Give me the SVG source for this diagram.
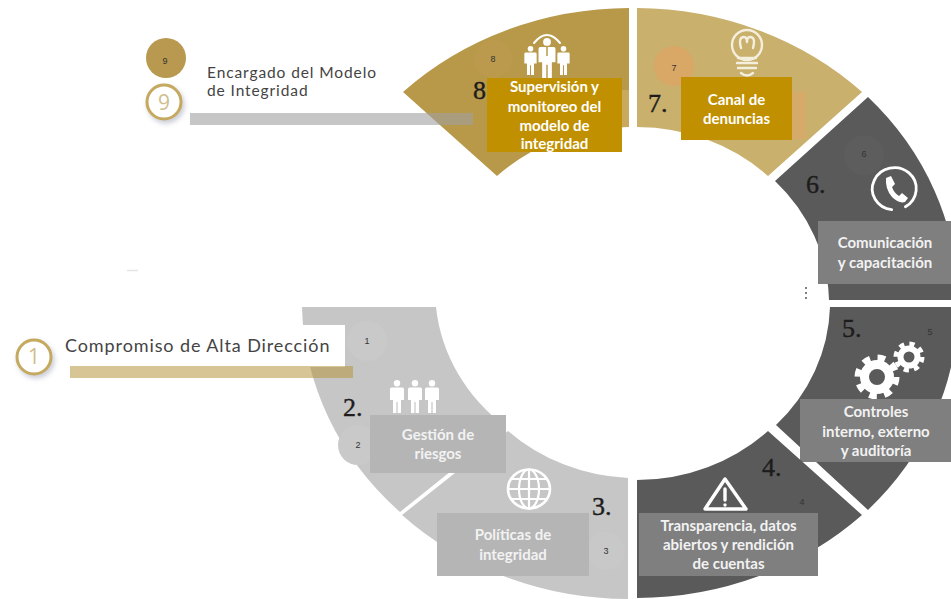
<svg xmlns="http://www.w3.org/2000/svg" width="951" height="599" viewBox="0 0 951 599">
<defs>
<style>
.dark{fill:#5a5a5a}.light{fill:#c6c6c6}
.lb{font-family:"Lato","Liberation Sans",sans-serif;font-weight:700;font-size:15px;fill:#fff;text-anchor:middle}
.lb2{fill:#f2f2f2}
.num{font-family:"Liberation Serif",serif;font-size:26px;fill:#1c1c1c;stroke:#1c1c1c;stroke-width:.4px}
.sm{font-family:"Liberation Sans",sans-serif;font-size:9px;fill:#333;text-anchor:middle}
.head{font-family:"Lato","Liberation Sans",sans-serif;fill:#444;letter-spacing:.9px}
.ring{font-family:"Open Sans","Liberation Sans",sans-serif;font-size:21px;fill:#d0bd8c;text-anchor:middle}
.ic{fill:none;stroke:#fff;stroke-linecap:round;stroke-linejoin:round}
.cr{fill:none;stroke:#f4eedd;stroke-width:2.4;stroke-linecap:round;stroke-linejoin:round}
</style>
<filter id="sh" x="-30%" y="-30%" width="170%" height="170%"><feDropShadow dx="2" dy="3" stdDeviation="2.5" flood-color="#8a8fa8" flood-opacity=".45"/></filter>
<symbol id="person" viewBox="0 0 14 33" overflow="visible">
<circle cx="7" cy="3.2" r="3.2" fill="#fff"/>
<path d="M1.5 7.500H12.500Q14 7.500 14 9V20H11V33H7.600V22H6.400V33H3V20H0V9Q0 7.500 1.500 7.500Z" fill="#fff"/>
</symbol>
</defs>
<rect width="951" height="599" fill="#fff"/>
<path d="M127 270.500H138" stroke="#e4e4e4" stroke-width="1.500"/>

<g id="node-8">
<path d="M629 8A325 295 0 0 0 403 92L497 176A190 176 0 0 1 629 127Z" fill="#b8994a"/>
<rect x="615" y="90" width="14" height="37" fill="#c9a95e"/>
<circle cx="493" cy="59" r="19" fill="#bb9a4e"/>
<text class="sm" x="493" y="62">8</text>
<g>
<path d="M534 43Q547 27 560 43" class="ic" stroke-width="2"/>
<use href="#person" x="524" y="46" width="13" height="29"/>
<use href="#person" x="557" y="46" width="13" height="29"/>
<use href="#person" x="538" y="38" width="18" height="40"/>
<path d="M547 47V56" stroke="#b8994a" stroke-width="1.500"/>
</g>
<text class="num" x="473" y="99">8.</text>
<rect x="487" y="78" width="135" height="74" fill="#c09000"/>
<text class="lb"><tspan x="554.500" y="92">Supervisión y</tspan><tspan x="554.500" y="112">monitoreo del</tspan><tspan x="554.500" y="131">modelo de</tspan><tspan x="554.500" y="149">integridad</tspan></text>
</g>

<g id="node-7">
<path d="M637 8A325 295 0 0 1 862 92L768 176A190 176 0 0 0 637 127Z" fill="#c9b06c"/>
<rect x="790" y="92" width="16" height="47" fill="#d6aa68"/>
<circle cx="674" cy="66" r="20" fill="#d9a766"/>
<text class="sm" x="674" y="71">7</text>
<g>
<circle cx="747" cy="45" r="15" class="cr"/>
<path d="M741 48Q738 37 744 37Q747 37 747 42Q747 37 750 37Q756 37 753 48" class="cr" stroke-width="1.600"/>
<path d="M738 58H756M737 63H757M738 68H756M741 73Q747 78 753 73" class="cr"/>
</g>
<text class="num" x="648" y="112">7.</text>
<rect x="681" y="77" width="111" height="63" fill="#c09000"/>
<text class="lb"><tspan x="736.500" y="105">Canal de</tspan><tspan x="736.500" y="124">denuncias</tspan></text>
</g>

<g id="node-6">
<path d="M868 97A325 295 0 0 1 958 300H829A190 176 0 0 0 775 181Z" class="dark"/>
<circle cx="864" cy="155" r="20" fill="#5d5d5d"/>
<text class="sm" x="864" y="157">6</text>
<g>
<path d="M889 209A22 21 0 1 1 903 208" class="ic" stroke-width="2.800" transform="rotate(-8 895 190)"/>
<path d="M886 178L891 176L895 184L892 187Q894 193 899 196L902 193L908 198L905 202Q899 204 892 197Q885 189 886 178Z" fill="#fff"/>
</g>
<text class="num" x="806" y="193">6.</text>
<rect x="818" y="221" width="133" height="63" fill="#7f7f7f"/>
<text class="lb lb2"><tspan x="885" y="248">Comunicación</tspan><tspan x="885" y="268">y capacitación</tspan></text>
<g fill="#555"><circle cx="806" cy="288" r="1"/><circle cx="806" cy="293" r="1"/><circle cx="806" cy="298" r="1"/></g>
</g>

<g id="node-5">
<path d="M830 307H958A325 295 0 0 1 868 510L776 425A190 176 0 0 0 830 307Z" class="dark"/>
<text class="sm" x="930" y="335">5</text>
<g fill="none" stroke="#fff">
<circle cx="877" cy="377" r="19" stroke-width="7" stroke-dasharray="7.500 7.420"/>
<circle cx="877" cy="377" r="12.500" stroke-width="9"/>
<circle cx="909" cy="357" r="13" stroke-width="5" stroke-dasharray="5.100 5.110"/>
<circle cx="909" cy="357" r="8.500" stroke-width="6"/>
</g>
<text class="num" x="842" y="337">5.</text>
<rect x="800" y="399" width="151" height="63" fill="#7f7f7f"/>
<text class="lb lb2"><tspan x="876" y="417">Controles</tspan><tspan x="876" y="437">interno, externo</tspan><tspan x="876" y="456">y auditoría</tspan></text>
</g>

<g id="node-4">
<path d="M768 431L862 515A325 295 0 0 1 637 598V480A190 176 0 0 0 768 431Z" class="dark"/>
<text class="sm" x="802" y="505">4</text>
<g>
<path d="M725 479L746 509H705Z" class="ic" stroke-width="3.400"/>
<path d="M725 489V500" class="ic" stroke-width="3.400"/>
<circle cx="725" cy="505" r="1.700" fill="#fff"/>
</g>
<text class="num" x="762" y="476">4.</text>
<rect x="639" y="513" width="179" height="63" fill="#7f7f7f"/>
<text class="lb lb2"><tspan x="728.500" y="531">Transparencia, datos</tspan><tspan x="728.500" y="550">abiertos y rendición</tspan><tspan x="728.500" y="569">de cuentas</tspan></text>
</g>

<g id="node-3">
<path d="M628 478V599A325 295 0 0 1 402 515L508 431A190 176 0 0 0 628 478Z" class="light"/>
<circle cx="606" cy="551" r="19" fill="#c8c8c8"/>
<text class="sm" x="606" y="554">3</text>
<g class="ic" stroke-width="2.200">
<ellipse cx="529" cy="489" rx="21" ry="19.500" stroke-width="2.600"/>
<ellipse cx="529" cy="489" rx="10" ry="19.500"/>
<path d="M529 469.500V508.500M508 489H550M511 479H547M511 499H547"/>
</g>
<text class="num" x="592" y="515">3.</text>
<rect x="437" y="513" width="152" height="63" fill="#b5b5b5"/>
<text class="lb lb2"><tspan x="513" y="540">Políticas de</tspan><tspan x="513" y="560">integridad</tspan></text>
</g>

<g id="node-2">
<path d="M302 307H436A190 176 0 0 0 506 427L400 512A325 295 0 0 1 302 307Z" class="light"/>
<circle cx="358" cy="445" r="20" fill="#c9c9c9"/>
<text class="sm" x="358" y="448">2</text>
<use href="#person" x="390" y="380" width="14" height="33"/>
<use href="#person" x="408" y="380" width="14" height="33"/>
<use href="#person" x="425" y="380" width="14" height="33"/>
<text class="num" x="343" y="416">2.</text>
<rect x="370" y="415" width="136" height="58" fill="#b5b5b5"/>
<text class="lb lb2"><tspan x="438" y="440">Gestión de</tspan><tspan x="438" y="459">riesgos</tspan></text>
</g>

<g id="node-1">
<rect x="290" y="325" width="55" height="42" fill="#fff"/>
<circle cx="367" cy="341" r="20" fill="#c9c9c9"/>
<text class="sm" x="367" y="344">1</text>
<circle cx="34" cy="357" r="17" fill="#fff" stroke="#c4a95f" stroke-width="3" filter="url(#sh)"/>
<text class="ring" x="34" y="364">1</text>
<text class="head" x="65" y="352" font-size="18">Compromiso de Alta Dirección</text>
</g>

<g id="node-9">
<circle cx="166" cy="58" r="20" fill="#b8994f"/>
<text class="sm" x="165" y="64">9</text>
<circle cx="164" cy="102" r="17" fill="#fff" stroke="#c4a95f" stroke-width="3" filter="url(#sh)"/>
<text class="ring" x="164" y="110">9</text>
<text class="head" font-size="15.500"><tspan x="207" y="78">Encargado del Modelo</tspan><tspan x="207" y="96">de Integridad</tspan></text>
</g>

<g id="connectors">
<rect x="190" y="113" width="283" height="12" fill="#a0a0a0" opacity=".6"/>
<rect x="70" y="366" width="283" height="12" fill="#b8963f" opacity=".55"/>
</g>
</svg>
